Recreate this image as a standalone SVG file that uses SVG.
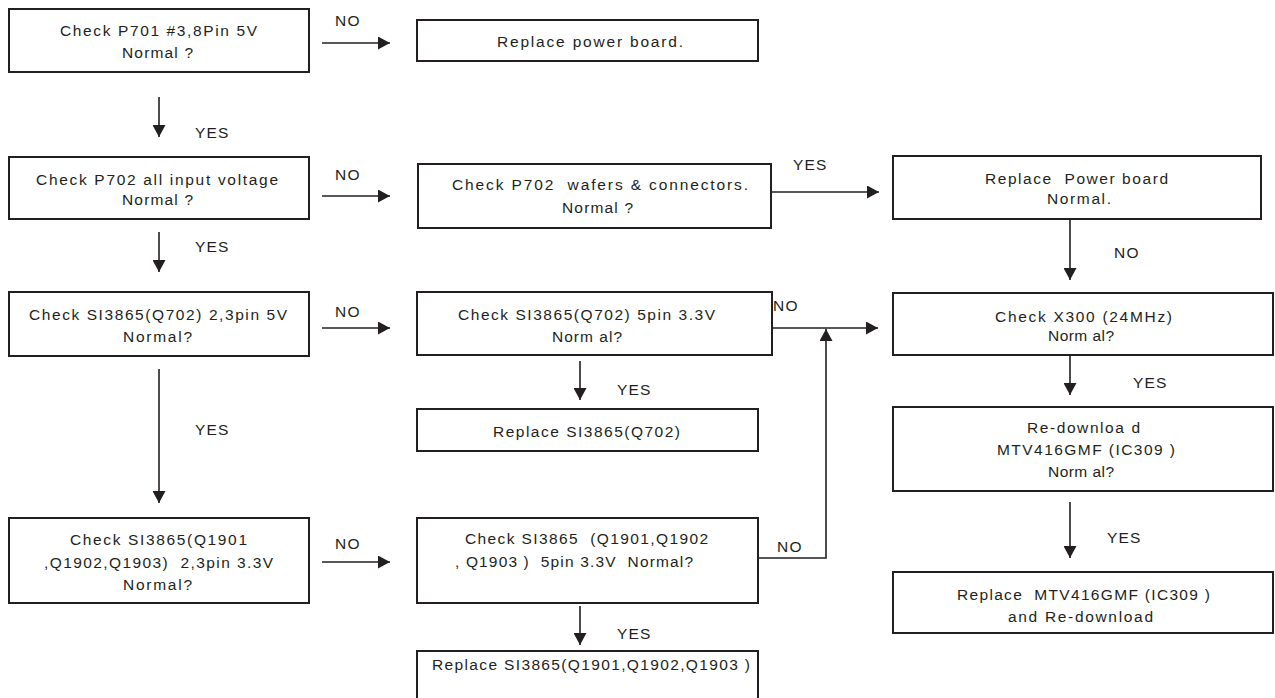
<svg xmlns="http://www.w3.org/2000/svg" width="1275" height="698" viewBox="0 0 1275 698">
  <style>
    .box { fill: #ffffff; stroke: #231f20; stroke-width: 2; }
    .t { font-family: "Liberation Sans", Arial, sans-serif; font-size: 15.5px; fill: #231f20; white-space: pre; }
    .lbl { font-family: "Liberation Sans", Arial, sans-serif; font-size: 15.5px; fill: #231f20; letter-spacing: 1.2px; }
    .wire { fill: none; stroke: #231f20; stroke-width: 1.6; }
  </style>
  <defs>
    <marker id="arrow" markerUnits="userSpaceOnUse" markerWidth="13" markerHeight="13" refX="12" refY="6.5" orient="auto">
      <path d="M0,0 L12,6.5 L0,13 Z" fill="#231f20"/>
    </marker>
  </defs>
  <rect width="1275" height="698" fill="#ffffff"/>

  <!-- connectors -->
  <g id="connectors">
    <path class="wire" d="M322,43 H390" marker-end="url(#arrow)"/>
    <path class="wire" d="M159,97 V137" marker-end="url(#arrow)"/>
    <path class="wire" d="M322,196 H390" marker-end="url(#arrow)"/>
    <path class="wire" d="M771,192 H879" marker-end="url(#arrow)"/>
    <path class="wire" d="M159,232 V272" marker-end="url(#arrow)"/>
    <path class="wire" d="M1070,219 V280" marker-end="url(#arrow)"/>
    <path class="wire" d="M322,328 H390" marker-end="url(#arrow)"/>
    <path class="wire" d="M772,328 H878" marker-end="url(#arrow)"/>
    <path class="wire" d="M580,361 V400" marker-end="url(#arrow)"/>
    <path class="wire" d="M1070,355 V395" marker-end="url(#arrow)"/>
    <path class="wire" d="M159,369 V503" marker-end="url(#arrow)"/>
    <path class="wire" d="M1070,502 V558" marker-end="url(#arrow)"/>
    <path class="wire" d="M322,562 H390" marker-end="url(#arrow)"/>
    <path class="wire" d="M758,558 H826 V329" marker-end="url(#arrow)"/>
    <path class="wire" d="M580,606 V645" marker-end="url(#arrow)"/>

    <text class="lbl" x="335" y="26">NO</text>
    <text class="lbl" x="195" y="138">YES</text>
    <text class="lbl" x="335" y="180">NO</text>
    <text class="lbl" x="793" y="170">YES</text>
    <text class="lbl" x="195" y="252">YES</text>
    <text class="lbl" x="1114" y="258">NO</text>
    <text class="lbl" x="335" y="317">NO</text>
    <text class="lbl" x="773" y="311">NO</text>
    <text class="lbl" x="617" y="395">YES</text>
    <text class="lbl" x="1133" y="388">YES</text>
    <text class="lbl" x="195" y="435">YES</text>
    <text class="lbl" x="1107" y="543">YES</text>
    <text class="lbl" x="335" y="549">NO</text>
    <text class="lbl" x="777" y="552">NO</text>
    <text class="lbl" x="617" y="639">YES</text>
  </g>

  <!-- left column -->
  <g id="check-p701">
    <rect class="box" x="9" y="9" width="300" height="63"/>
    <text class="t" x="60" y="36" textLength="197" lengthAdjust="spacing">Check P701 #3,8Pin 5V</text>
    <text class="t" x="122" y="58" textLength="71" lengthAdjust="spacing">Normal ?</text>
  </g>
  <g id="check-p702">
    <rect class="box" x="9" y="157" width="300" height="62"/>
    <text class="t" x="36" y="185" textLength="242" lengthAdjust="spacing">Check P702 all input voltage</text>
    <text class="t" x="122" y="205" textLength="71" lengthAdjust="spacing">Normal ?</text>
  </g>
  <g id="check-q702-5v">
    <rect class="box" x="9" y="292" width="300" height="64"/>
    <text class="t" x="29" y="320" textLength="258" lengthAdjust="spacing">Check SI3865(Q702) 2,3pin 5V</text>
    <text class="t" x="123" y="342" textLength="69" lengthAdjust="spacing">Normal?</text>
  </g>
  <g id="check-q1901-33v">
    <rect class="box" x="9" y="518" width="300" height="85"/>
    <text class="t" x="70" y="545" textLength="177" lengthAdjust="spacing">Check SI3865(Q1901</text>
    <text class="t" x="44" y="568" textLength="229" lengthAdjust="spacing">,Q1902,Q1903)  2,3pin 3.3V</text>
    <text class="t" x="123" y="590" textLength="69" lengthAdjust="spacing">Normal?</text>
  </g>

  <!-- middle column -->
  <g id="replace-power-board">
    <rect class="box" x="417" y="20" width="341" height="41"/>
    <text class="t" x="497" y="47" textLength="186" lengthAdjust="spacing">Replace power board.</text>
  </g>
  <g id="check-p702-wafers">
    <rect class="box" x="418" y="164" width="353" height="64"/>
    <text class="t" x="452" y="190" textLength="296" lengthAdjust="spacing">Check P702  wafers &amp; connectors.</text>
    <text class="t" x="562" y="213" textLength="71" lengthAdjust="spacing">Normal ?</text>
  </g>
  <g id="check-q702-33v">
    <rect class="box" x="417" y="292" width="355" height="63"/>
    <text class="t" x="458" y="320" textLength="257" lengthAdjust="spacing">Check SI3865(Q702) 5pin 3.3V</text>
    <text class="t" x="552" y="342" textLength="70" lengthAdjust="spacing">Norm al?</text>
  </g>
  <g id="replace-q702">
    <rect class="box" x="417" y="409" width="341" height="42"/>
    <text class="t" x="493" y="437" textLength="187" lengthAdjust="spacing">Replace SI3865(Q702)</text>
  </g>
  <g id="check-q1901-5pin">
    <rect class="box" x="417" y="518" width="341" height="85"/>
    <text class="t" x="465" y="544" textLength="243" lengthAdjust="spacing">Check SI3865  (Q1901,Q1902</text>
    <text class="t" x="455" y="567" textLength="238" lengthAdjust="spacing">, Q1903 )  5pin 3.3V  Normal?</text>
  </g>
  <g id="replace-q1901">
    <rect class="box" x="417" y="651" width="341" height="60"/>
    <text class="t" x="432" y="670" textLength="318" lengthAdjust="spacing">Replace SI3865(Q1901,Q1902,Q1903 )</text>
  </g>

  <!-- right column -->
  <g id="replace-power-board-normal">
    <rect class="box" x="893" y="156" width="368" height="63"/>
    <text class="t" x="985" y="184" textLength="183" lengthAdjust="spacing">Replace  Power board</text>
    <text class="t" x="1047" y="204" textLength="64" lengthAdjust="spacing">Normal.</text>
  </g>
  <g id="check-x300">
    <rect class="box" x="893" y="293" width="380" height="62"/>
    <text class="t" x="995" y="322" textLength="177" lengthAdjust="spacing">Check X300 (24MHz)</text>
    <text class="t" x="1048" y="341" textLength="66" lengthAdjust="spacing">Norm al?</text>
  </g>
  <g id="redownload-mtv416">
    <rect class="box" x="893" y="407" width="380" height="84"/>
    <text class="t" x="1027" y="433" textLength="113" lengthAdjust="spacing">Re-downloa d</text>
    <text class="t" x="997" y="455" textLength="178" lengthAdjust="spacing">MTV416GMF (IC309 )</text>
    <text class="t" x="1048" y="477" textLength="66" lengthAdjust="spacing">Norm al?</text>
  </g>
  <g id="replace-mtv416">
    <rect class="box" x="893" y="572" width="380" height="61"/>
    <text class="t" x="957" y="600" textLength="253" lengthAdjust="spacing">Replace  MTV416GMF (IC309 )</text>
    <text class="t" x="1008" y="622" textLength="145" lengthAdjust="spacing">and Re-download</text>
  </g>
</svg>
